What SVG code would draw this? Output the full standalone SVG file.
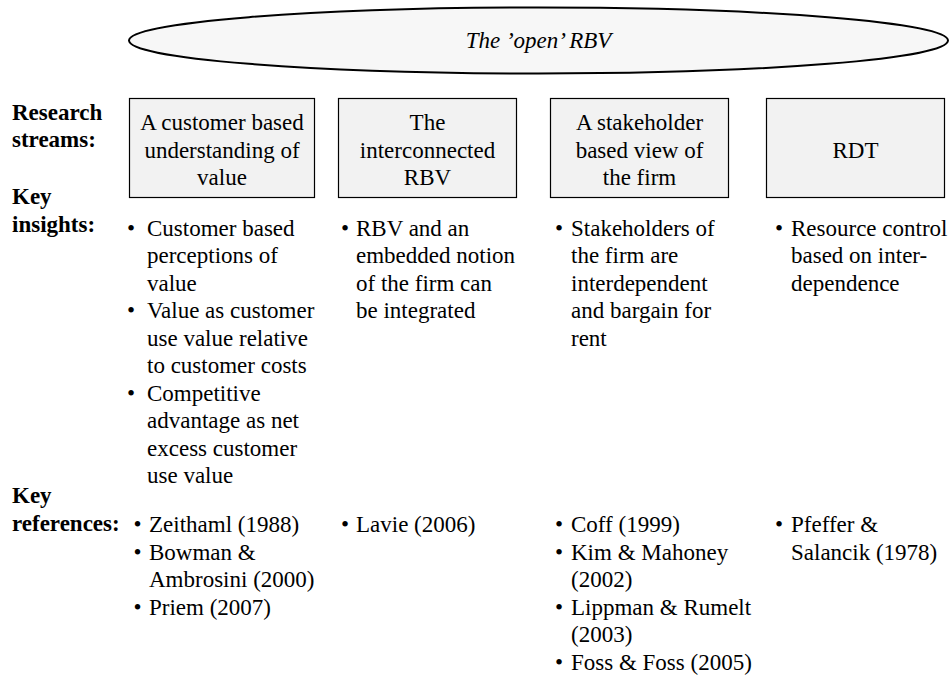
<svg xmlns="http://www.w3.org/2000/svg" width="952" height="675" viewBox="0 0 952 675">
  <style>
    text { font-family: "Liberation Serif", "Times New Roman", serif; font-size: 23px; fill: #000; }
    .lbl { font-weight: bold; }
    .mid { text-anchor: middle; }
    .ttl { font-style: italic; }
    .box { fill: #f2f2f2; stroke: #000; stroke-width: 1.2; }
    .oval { fill: #f7f7f7; stroke: #000; stroke-width: 2; }
  </style>

  <!-- Umbrella perspective -->
  <g id="open-rbv">
    <ellipse class="oval" cx="538.5" cy="40.5" rx="409.5" ry="33"/>
    <text class="ttl mid" x="538.5" y="48">The ’open’ RBV</text>
  </g>

  <!-- Row labels -->
  <g id="row-labels">
    <text class="lbl" x="12" y="120">Research</text>
    <text class="lbl" x="12" y="147">streams:</text>
    <text class="lbl" x="12" y="204">Key</text>
    <text class="lbl" x="12" y="232">insights:</text>
    <text class="lbl" x="12" y="503">Key</text>
    <text class="lbl" x="12" y="531">references:</text>
  </g>

  <!-- Column 1: customer based understanding of value -->
  <g id="stream-customer">
    <rect class="box" x="129.5" y="98.5" width="185" height="99"/>
    <text class="mid" x="222" y="130">A customer based</text>
    <text class="mid" x="222" y="157.5">understanding of</text>
    <text class="mid" x="222" y="185">value</text>
  </g>
  <g id="insights-customer">
    <text x="127" y="235.5">•</text>
    <text x="147" y="235.5">Customer based</text>
    <text x="147" y="263">perceptions of</text>
    <text x="147" y="290.5">value</text>
    <text x="127" y="318">•</text>
    <text x="147" y="318">Value as customer</text>
    <text x="147" y="345.5">use value relative</text>
    <text x="147" y="373">to customer costs</text>
    <text x="127" y="400.5">•</text>
    <text x="147" y="400.5">Competitive</text>
    <text x="147" y="428">advantage as net</text>
    <text x="147" y="455.5">excess customer</text>
    <text x="147" y="483">use value</text>
  </g>
  <g id="refs-customer">
    <text x="133.5" y="532">•</text>
    <text x="149" y="532">Zeithaml (1988)</text>
    <text x="133.5" y="559.5">•</text>
    <text x="149" y="559.5">Bowman &amp;</text>
    <text x="149" y="587">Ambrosini (2000)</text>
    <text x="133.5" y="614.5">•</text>
    <text x="149" y="614.5">Priem (2007)</text>
  </g>

  <!-- Column 2: interconnected RBV -->
  <g id="stream-interconnected">
    <rect class="box" x="338.5" y="98.5" width="178" height="99"/>
    <text class="mid" x="427.5" y="130">The</text>
    <text class="mid" x="427.5" y="157.5">interconnected</text>
    <text class="mid" x="427.5" y="185">RBV</text>
  </g>
  <g id="insights-interconnected">
    <text x="341" y="235.5">•</text>
    <text x="356" y="235.5">RBV and an</text>
    <text x="356" y="263">embedded notion</text>
    <text x="356" y="290.5">of the firm can</text>
    <text x="356" y="318">be integrated</text>
  </g>
  <g id="refs-interconnected">
    <text x="341" y="532">•</text>
    <text x="356" y="532">Lavie (2006)</text>
  </g>

  <!-- Column 3: stakeholder based view -->
  <g id="stream-stakeholder">
    <rect class="box" x="550.5" y="98.5" width="178" height="99"/>
    <text class="mid" x="639.5" y="130">A stakeholder</text>
    <text class="mid" x="639.5" y="157.5">based view of</text>
    <text class="mid" x="639.5" y="185">the firm</text>
  </g>
  <g id="insights-stakeholder">
    <text x="555" y="235.5">•</text>
    <text x="571" y="235.5">Stakeholders of</text>
    <text x="571" y="263">the firm are</text>
    <text x="571" y="290.5">interdependent</text>
    <text x="571" y="318">and bargain for</text>
    <text x="571" y="345.5">rent</text>
  </g>
  <g id="refs-stakeholder">
    <text x="555" y="532">•</text>
    <text x="571" y="532">Coff (1999)</text>
    <text x="555" y="559.5">•</text>
    <text x="571" y="559.5">Kim &amp; Mahoney</text>
    <text x="571" y="587">(2002)</text>
    <text x="555" y="614.5">•</text>
    <text x="571" y="614.5">Lippman &amp; Rumelt</text>
    <text x="571" y="642">(2003)</text>
    <text x="555" y="669.5">•</text>
    <text x="571" y="669.5">Foss &amp; Foss (2005)</text>
  </g>

  <!-- Column 4: resource dependence theory -->
  <g id="stream-rdt">
    <rect class="box" x="766.5" y="98.5" width="178" height="99"/>
    <text class="mid" x="855.5" y="157.5">RDT</text>
  </g>
  <g id="insights-rdt">
    <text x="775" y="235.5">•</text>
    <text x="791" y="235.5">Resource control</text>
    <text x="791" y="263">based on inter-</text>
    <text x="791" y="290.5">dependence</text>
  </g>
  <g id="refs-rdt">
    <text x="775" y="532">•</text>
    <text x="791" y="532">Pfeffer &amp;</text>
    <text x="791" y="559.5">Salancik (1978)</text>
  </g>
</svg>
